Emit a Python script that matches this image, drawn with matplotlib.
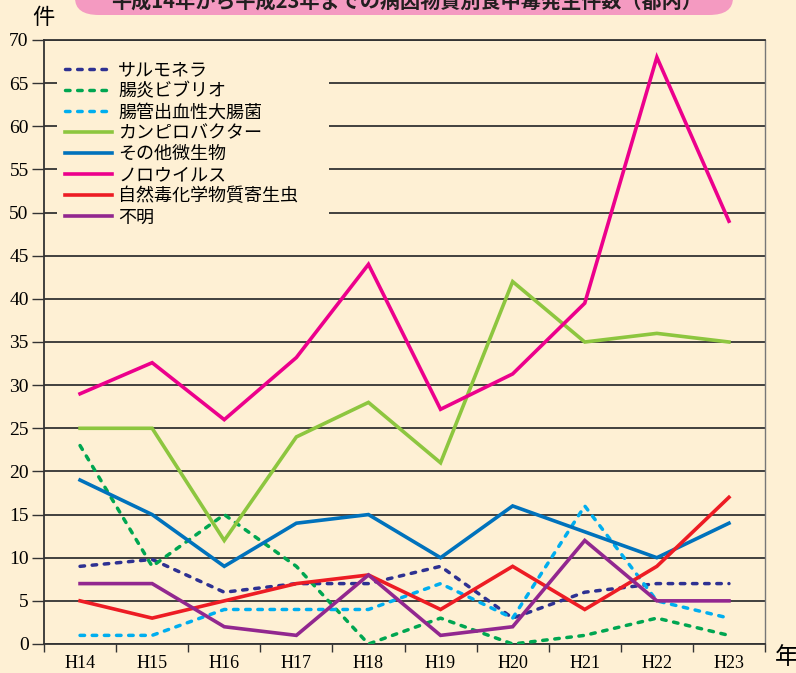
import numpy as np
import matplotlib.pyplot as plt
from matplotlib.patches import FancyBboxPatch, Rectangle

plt.rcParams['font.family'] = ['Liberation Serif', 'Noto Sans CJK JP']

years = ['H14', 'H15', 'H16', 'H17', 'H18', 'H19', 'H20', 'H21', 'H22', 'H23']

salmonella = [9, 9.8, 6, 7, 7, 9, 3, 6, 7, 7]
vibrio = [23, 9, 15, 9, 0, 3, 0, 1, 3, 1]
ehec = [1, 1, 4, 4, 4, 7, 3, 16, 5, 3]
campylo = [25, 25, 12, 24, 28, 21, 42, 35, 36, 35]
other = [19, 15, 9, 14, 15, 10, 16, 13, 10, 14]
noro = [29, 32.6, 26, 33.2, 44, 27.2, 31.3, 39.5, 68, 49]
natural = [5, 3, 5, 7, 8, 4, 9, 4, 9, 17]
unknown = [7, 7, 2, 1, 8, 1, 2, 12, 5, 5]

names = ['サルモネラ', '腸炎ビブリオ', '腸管出血性大腸菌', 'カンピロバクター',
         'その他微生物', 'ノロウイルス', '自然毒化学物質寄生虫', '不明']
series = [salmonella, vibrio, ehec, campylo, other, noro, natural, unknown]
colors = ['#2E3192', '#00A651', '#00AEEF', '#8DC63F',
          '#0072BC', '#EC008C', '#ED1C24', '#92278F']
dashed = [True, True, True, False, False, False, False, False]

bg = '#FEF0D4'
W, H = 796, 673

fig = plt.figure(figsize=(W/100, H/100), dpi=100, facecolor=bg)
ax = fig.add_axes([44/W, 29/H, 721/W, 604/H], facecolor=bg)

x = np.arange(len(years))
for vals, name, c, d in zip(series, names, colors, dashed):
    if d:
        ax.plot(x, vals, color=c, lw=2.5, linestyle=(0, (1.3, 2.2)),
                dash_capstyle='round', label=name, zorder=3)
    else:
        ax.plot(x, vals, color=c, lw=2.6, label=name, zorder=3,
                solid_joinstyle='miter')

ax.set_xlim(-0.5, 9.5)
ax.set_ylim(0, 70)
ax.set_yticks(np.arange(0, 71, 5))
ax.set_xticks(x)
ax.set_xticklabels(years)
ax.set_xticks(np.arange(-0.5, 10, 1), minor=True)
ax.tick_params(axis='x', which='major', length=0, pad=8, labelsize=13)
ax.tick_params(axis='x', which='minor', length=6, width=1, color='#333333')
ax.tick_params(axis='y', length=9, width=1, color='#333333', labelsize=14, pad=2)
ax.yaxis.grid(True, color='#333333', lw=1.3, zorder=1)
ax.set_axisbelow(True)

for s in ['left', 'bottom', 'top']:
    ax.spines[s].set_color('#333333')
    ax.spines[s].set_linewidth(1.3)
ax.spines['right'].set_color('#777777')
ax.spines['right'].set_linewidth(1.0)

# blank patch behind the legend hides the grid lines there
cover = Rectangle((57/W, 1 - 230/H), 272/W, 185/H, transform=fig.transFigure,
                  facecolor=bg, edgecolor='none', zorder=2)
ax.add_patch(cover)
cover.set_clip_on(False)

leg = ax.legend(loc='upper left', bbox_to_anchor=(65/W, 1 - 61/H),
                bbox_transform=fig.transFigure, frameon=False,
                prop={'family': ['Noto Sans CJK JP'], 'size': 13},
                handlelength=2.6, handletextpad=0.35, labelspacing=0.17,
                borderpad=0, borderaxespad=0)
leg.set_zorder(5)

fig.text(43/W, 1 - 17/H, '件', fontsize=16, ha='center', va='center',
         family=['Noto Sans CJK JP'])
fig.text(787/W, 1 - 657/H, '年', fontsize=17, ha='center', va='center',
         family=['Noto Sans CJK JP'])

box = FancyBboxPatch((75/W, 1 - 15/H), 658/W, 40/H,
                     boxstyle='round,pad=0,rounding_size=0.03',
                     transform=fig.transFigure, facecolor='#F49AC1',
                     edgecolor='none', mutation_aspect=H/W)
fig.patches.append(box)
fig.text(407/W, 1 - 1/H, '平成14年から平成23年までの病因物質別食中毒発生件数（都内）',
         fontsize=14.5, fontweight='bold', ha='center', va='center',
         family=['Noto Sans CJK JP'], color='#231F20')

fig.savefig('out.png', dpi=100, facecolor=bg)
